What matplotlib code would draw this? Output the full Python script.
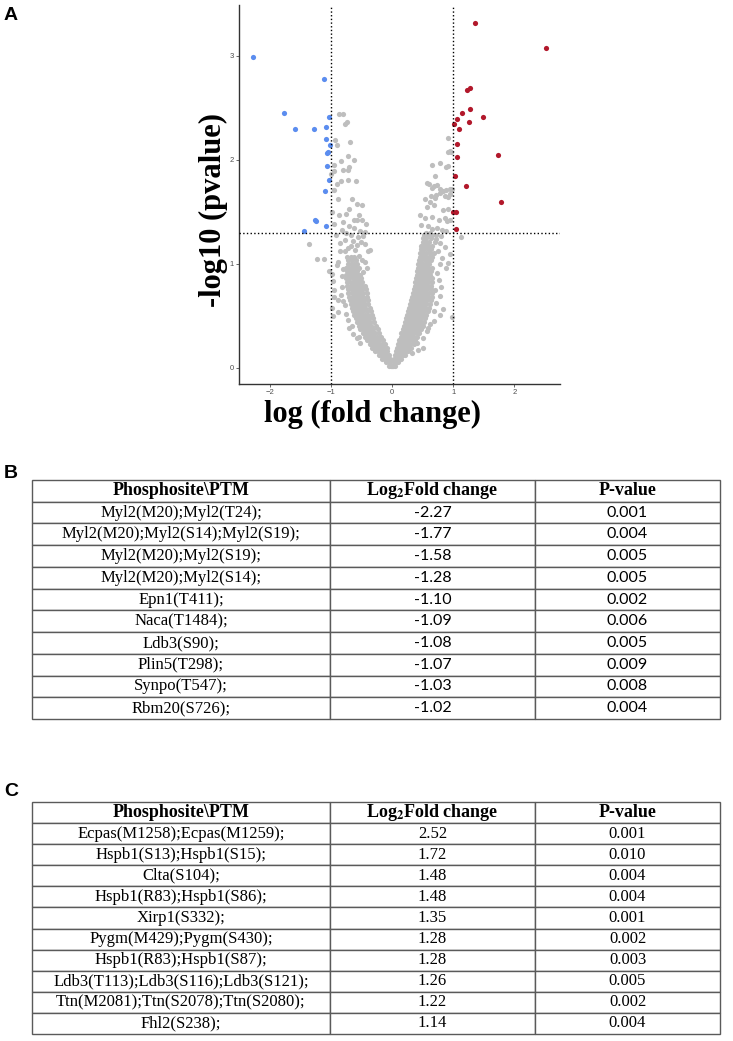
import matplotlib.pyplot as plt

plt.rcParams['mathtext.fontset'] = 'stix'

W, H = 733, 1041

# ---- volcano data ----
# significant, down (blue)
down_x = [-2.28, -1.11, -1.78, -1.585, -1.28, -1.08, -1.03, -1.09, -1.02, -1.05,
          -1.07, -1.07, -1.03, -1.10, -1.27, -1.25, -1.09, -1.45]
down_y = [2.99, 2.78, 2.45, 2.30, 2.30, 2.32, 2.41, 2.20, 2.14, 2.08,
          2.07, 1.94, 1.81, 1.70, 1.42, 1.41, 1.365, 1.32]
# significant, up (red)
up_x = [1.355, 2.52, 1.22, 1.28, 1.28, 1.14, 1.49, 1.066, 1.016, 1.26,
        1.10, 1.06, 1.066, 1.73, 1.03, 1.21, 1.79, 0.995, 1.05, 1.04]
up_y = [3.32, 3.08, 2.67, 2.69, 2.49, 2.45, 2.41, 2.39, 2.35, 2.36,
        2.30, 2.15, 2.03, 2.05, 1.85, 1.75, 1.60, 1.50, 1.50, 1.34]

# not significant (grey): dense V read row by row
gray_row_y = [0.02, 0.055, 0.09, 0.125, 0.16, 0.195, 0.23, 0.265, 0.30, 0.335,
              0.37, 0.405, 0.44, 0.475, 0.51, 0.545, 0.58, 0.615, 0.65, 0.685,
              0.72, 0.755, 0.79, 0.825, 0.86, 0.895, 0.93, 0.965, 1.0, 1.035,
              1.07, 1.105, 1.14, 1.175, 1.21, 1.245, 1.28]
gray_row_x = [
    [-0.05, -0.02, 0.0, 0.02, 0.05],
    [-0.1, -0.06, -0.03, 0.03, 0.06, 0.1],
    [-0.16, -0.12, -0.08, -0.04, 0.03, 0.07, 0.11, 0.15],
    [-0.22, -0.18, -0.14, -0.1, -0.06, 0.05, 0.09, 0.13, 0.17, 0.21],
    [-0.28, -0.24, -0.2, -0.16, -0.12, -0.08, 0.06, 0.1, 0.14, 0.18, 0.22, 0.26],
    [-0.33, -0.29, -0.25, -0.21, -0.17, -0.13, -0.09, 0.08, 0.12, 0.16, 0.2, 0.24, 0.28, 0.31],
    [-0.37, -0.33, -0.29, -0.25, -0.21, -0.17, -0.12, 0.1, 0.14, 0.18, 0.22, 0.26, 0.3, 0.35],
    [-0.41, -0.37, -0.33, -0.29, -0.25, -0.21, -0.15, 0.12, 0.16, 0.2, 0.24, 0.28, 0.32, 0.37],
    [-0.45, -0.41, -0.37, -0.33, -0.29, -0.25, -0.18, 0.14, 0.18, 0.22, 0.26, 0.3, 0.34, 0.4],
    [-0.48, -0.44, -0.4, -0.36, -0.32, -0.28, -0.21, 0.15, 0.19, 0.23, 0.27, 0.31, 0.35, 0.4, 0.44],
    [-0.52, -0.48, -0.44, -0.4, -0.36, -0.31, -0.24, 0.17, 0.21, 0.25, 0.29, 0.33, 0.37, 0.42, 0.47],
    [-0.55, -0.51, -0.47, -0.43, -0.39, -0.34, -0.27, 0.19, 0.23, 0.27, 0.31, 0.35, 0.4, 0.45, 0.5],
    [-0.57, -0.53, -0.49, -0.45, -0.41, -0.36, -0.29, 0.21, 0.25, 0.29, 0.33, 0.37, 0.42, 0.47, 0.52],
    [-0.6, -0.55, -0.51, -0.47, -0.43, -0.38, -0.31, 0.22, 0.26, 0.3, 0.34, 0.38, 0.43, 0.48, 0.54],
    [-0.62, -0.57, -0.53, -0.49, -0.45, -0.4, -0.33, 0.24, 0.28, 0.32, 0.36, 0.4, 0.45, 0.5, 0.56],
    [-0.64, -0.59, -0.55, -0.51, -0.47, -0.42, -0.35, 0.26, 0.3, 0.34, 0.38, 0.42, 0.47, 0.52, 0.58],
    [-0.66, -0.61, -0.57, -0.53, -0.49, -0.44, -0.37, 0.28, 0.32, 0.36, 0.4, 0.44, 0.49, 0.54, 0.6],
    [-0.68, -0.63, -0.58, -0.54, -0.5, -0.45, -0.39, 0.3, 0.34, 0.38, 0.42, 0.46, 0.51, 0.56, 0.62],
    [-0.69, -0.64, -0.59, -0.55, -0.51, -0.46, -0.4, 0.31, 0.35, 0.39, 0.43, 0.47, 0.52, 0.57, 0.63],
    [-0.7, -0.65, -0.6, -0.56, -0.52, -0.47, -0.41, 0.33, 0.37, 0.41, 0.45, 0.49, 0.54, 0.59, 0.65],
    [-0.72, -0.66, -0.61, -0.57, -0.53, -0.48, -0.42, 0.34, 0.38, 0.42, 0.46, 0.5, 0.55, 0.61, 0.66],
    [-0.73, -0.67, -0.62, -0.58, -0.54, -0.49, -0.43, 0.36, 0.4, 0.44, 0.48, 0.52, 0.57, 0.63],
    [-0.74, -0.68, -0.63, -0.58, -0.54, -0.5, -0.45, 0.37, 0.41, 0.45, 0.49, 0.53, 0.58, 0.64],
    [-0.74, -0.69, -0.64, -0.59, -0.55, -0.5, 0.38, 0.42, 0.46, 0.5, 0.54, 0.59, 0.65],
    [-0.75, -0.7, -0.65, -0.6, -0.56, -0.51, 0.39, 0.43, 0.47, 0.51, 0.55, 0.6, 0.66],
    [-0.76, -0.71, -0.66, -0.61, -0.56, -0.52, 0.4, 0.44, 0.48, 0.52, 0.57, 0.62],
    [-0.74, -0.7, -0.66, -0.61, -0.57, 0.41, 0.45, 0.49, 0.53, 0.58, 0.63],
    [-0.75, -0.7, -0.65, -0.6, -0.55, 0.42, 0.46, 0.5, 0.54, 0.59, 0.65],
    [-0.73, -0.68, -0.63, -0.58, 0.43, 0.47, 0.51, 0.56, 0.61],
    [-0.72, -0.66, -0.6, 0.44, 0.48, 0.53, 0.58, 0.64],
    [-0.74, -0.68, -0.62, 0.45, 0.5, 0.55, 0.6, 0.66],
    [0.46, 0.51, 0.56, 0.62, 0.68],
    [0.47, 0.52, 0.58, 0.64],
    [0.48, 0.53, 0.59, 0.66],
    [0.5, 0.55, 0.61, 0.7],
    [0.51, 0.56, 0.63],
    [0.52, 0.58, 0.65, 0.72],
]
# scattered grey sites outside the dense V
gray_out_x = [-0.72, -0.66, -0.54, -0.52, -0.57, -0.88, -0.89, -0.81, -0.95, -0.91,
              -0.88, -0.85, -0.77, -0.86, -0.78, -0.67, -0.61, -0.51, -0.44, -0.39,
              -0.36, -0.97, -0.98, -0.96, -0.97, -0.99, -1.36, -1.23, -1.11, -1.03,
              -0.83, -0.8, -0.82, -0.84, -0.78, -0.76, -0.70, -0.64, -0.5, -0.55,
              -0.45, -0.42, -0.47, -0.65, -0.72, -0.58,
              -0.87, -0.80, -0.77, -0.74, -0.93, -0.69, -0.90, -0.84, -0.72, -0.63,
              -0.96, -0.80, -0.73, -0.70, -0.96, -0.90, -0.84, -0.72, -0.60, -0.95,
              -0.70, -0.87, -0.58, -0.50, -0.98, -0.80, -0.70, -0.63, -0.57, -0.50,
              -0.43, -0.63, -0.52, -0.44, -1.0, -0.88, -0.76, -0.66, -0.55, -0.47,
              -0.56, -0.67, -0.75, -0.83, -0.92, -0.96,
              0.91, 0.92, 0.95, 0.97, 0.66, 0.78, 0.89, 0.91, 0.70, 0.57,
              0.61, 0.65, 0.68, 0.74, 0.78, 0.83, 0.89, 0.94, 0.95, 0.63,
              0.72, 0.79, 0.87, 0.92, 0.54, 0.62, 0.70, 0.57, 0.68, 0.84,
              0.92, 0.46, 0.54, 0.65, 0.76, 0.87, 0.90, 0.94, 0.48, 0.58,
              0.66, 0.74, 0.82, 0.89, 1.13, 0.92, 0.98, 0.84, 0.79, 0.68,
              0.57, 0.51, 0.51, 0.40, 0.43, 0.32, 0.73, 0.76, 0.80, 0.79,
              0.70, 0.72, 0.69, 0.62, 0.58, 0.78, 0.82, 0.75, 0.78, 0.86,
              0.8, 0.72, 0.95, 0.88, 0.62, 0.55, 0.98]
gray_out_y = [0.46, 0.40, 0.30, 0.24, 0.29, 0.54, 0.65, 0.64, 0.75, 0.99,
              1.02, 1.12, 1.12, 1.20, 1.23, 1.17, 1.13, 1.21, 1.19, 1.12,
              1.13, 0.50, 0.58, 0.68, 0.84, 0.90, 1.19, 1.05, 1.05, 0.93,
              0.88, 0.95, 0.78, 0.70, 0.60, 0.52, 0.38, 0.33, 1.04, 1.08,
              1.02, 0.96, 0.92, 1.22, 1.15, 1.18,
              2.44, 2.44, 2.35, 2.36, 2.19, 2.17, 2.14, 1.99, 2.04, 2.0,
              1.95, 1.90, 1.90, 1.93, 1.89, 1.77, 1.80, 1.81, 1.80, 1.71,
              1.53, 1.47, 1.58, 1.57, 1.50, 1.40, 1.36, 1.42, 1.42, 1.42,
              1.38, 1.35, 1.32, 1.31, 1.86, 1.62, 1.48, 1.62, 1.47, 1.27,
              1.26, 1.28, 1.30, 1.33, 1.28, 1.38,
              2.21, 2.08, 2.09, 2.08, 1.95, 1.97, 1.93, 1.94, 1.85, 1.78,
              1.77, 1.73, 1.75, 1.76, 1.72, 1.70, 1.71, 1.72, 1.67, 1.65,
              1.66, 1.68, 1.65, 1.64, 1.62, 1.60, 1.63, 1.55, 1.57, 1.52,
              1.53, 1.47, 1.44, 1.45, 1.42, 1.44, 1.41, 1.42, 1.37, 1.36,
              1.34, 1.35, 1.33, 1.32, 1.26, 1.01, 0.49, 0.57, 0.51, 0.45,
              0.35, 0.29, 0.19, 0.24, 0.17, 0.14, 0.91, 0.85, 0.78, 0.69,
              0.75, 0.62, 0.55, 0.42, 0.38, 1.0, 1.06, 1.12, 1.2, 1.16,
              1.27, 1.24, 1.1, 0.96, 1.3, 1.3, 1.72]

x_ticks = [-2, -1, 0, 1, 2]
y_ticks = [0, 1, 2, 3]
fc_cut = 1.0
p_cut = 1.301

# ---- table data ----
header = ['Phosphosite\\PTM', 'Log$_\\mathbf{2}$Fold change', 'P-value']
sites_b = ['Myl2(M20);Myl2(T24);', 'Myl2(M20);Myl2(S14);Myl2(S19);', 'Myl2(M20);Myl2(S19);',
           'Myl2(M20);Myl2(S14);', 'Epn1(T411);', 'Naca(T1484);', 'Ldb3(S90);',
           'Plin5(T298);', 'Synpo(T547);', 'Rbm20(S726);']
fc_b = [-2.27, -1.77, -1.58, -1.28, -1.10, -1.09, -1.08, -1.07, -1.03, -1.02]
p_b = [0.001, 0.004, 0.005, 0.005, 0.002, 0.006, 0.005, 0.009, 0.008, 0.004]
sites_c = ['Ecpas(M1258);Ecpas(M1259);', 'Hspb1(S13);Hspb1(S15);', 'Clta(S104);',
           'Hspb1(R83);Hspb1(S86);', 'Xirp1(S332);', 'Pygm(M429);Pygm(S430);',
           'Hspb1(R83);Hspb1(S87);', 'Ldb3(T113);Ldb3(S116);Ldb3(S121);',
           'Ttn(M2081);Ttn(S2078);Ttn(S2080);', 'Fhl2(S238);']
fc_c = [2.52, 1.72, 1.48, 1.48, 1.35, 1.28, 1.28, 1.26, 1.22, 1.14]
p_c = [0.001, 0.010, 0.004, 0.004, 0.001, 0.002, 0.003, 0.005, 0.002, 0.004]


def px_rect(l, t, r, b):
    return [l / W, 1 - b / H, (r - l) / W, (b - t) / H]


fig = plt.figure(figsize=(W / 100, H / 100), dpi=100)

# ---- panel A: volcano ----
ax = fig.add_axes(px_rect(239, 5, 560, 384))
gx, gy = [], []
for yv, xs in zip(gray_row_y, gray_row_x):
    gx += xs
    gy += [yv] * len(xs)
gx += gray_out_x
gy += gray_out_y
ax.scatter(gx, gy, s=14, color='#bebebe', linewidths=0, zorder=2)
ax.scatter(down_x, down_y, s=14, color='#5b8def', linewidths=0, zorder=3)
ax.scatter(up_x, up_y, s=14, color='#b2182b', linewidths=0, zorder=3)
for xv in (-fc_cut, fc_cut):
    ax.axvline(xv, color='black', linestyle=':', linewidth=1, zorder=4)
ax.axhline(p_cut, color='black', linestyle=':', linewidth=1, zorder=4)
ax.set_xlim(-2.51, 2.75)
ax.set_ylim(-0.155, 3.49)
ax.set_xticks(x_ticks)
ax.set_yticks(y_ticks)
ax.tick_params(labelsize=5.5, labelcolor='#4d4d4d', color='#4d4d4d', length=2, width=0.6, pad=1.5)
for lab in ax.get_xticklabels() + ax.get_yticklabels():
    lab.set_fontfamily('Liberation Sans')
for s in ('top', 'right'):
    ax.spines[s].set_visible(False)
for s in ('left', 'bottom'):
    ax.spines[s].set_color('#333333')
    ax.spines[s].set_linewidth(1)

fig.text(213 / W, 1 - 210 / H, '-log10 (pvalue)', rotation=90, ha='center', va='center',
         fontfamily='Liberation Serif', fontweight='bold', fontsize=22)
fig.text(373 / W, 1 - 414 / H, 'log (fold change)', ha='center', va='center',
         fontfamily='Liberation Serif', fontweight='bold', fontsize=22)

# ---- panels B, C: tables ----
col_w = [298, 205, 185]


def draw_table(box, sites, fc, pv, num_family):
    tax = fig.add_axes(px_rect(*box))
    tax.axis('off')
    rows = [[s, f'{v:.2f}', f'{q:.3f}'] for s, v, q in zip(sites, fc, pv)]
    tb = tax.table(cellText=rows, colLabels=header, colWidths=[w / sum(col_w) for w in col_w],
                   cellLoc='center', bbox=[0, 0, 1, 1])
    tb.auto_set_font_size(False)
    for (r, c), cell in tb.get_celld().items():
        cell.set_edgecolor('#5a5a5a')
        cell.set_linewidth(1.0)
        t = cell.get_text()
        if r == 0:
            t.set_fontfamily('Liberation Serif')
            t.set_fontweight('bold')
            t.set_fontsize(13)
        elif c == 0:
            t.set_fontfamily('Liberation Serif')
            t.set_fontsize(12)
        else:
            t.set_fontfamily(num_family)
            t.set_fontsize(12 if num_family != 'Lato' else 11.5)


draw_table((32, 480, 720, 719), sites_b, fc_b, p_b, 'Lato')
draw_table((32, 802, 720, 1034), sites_c, fc_c, p_c, 'Liberation Serif')

for letter, yy in (('A', 16), ('B', 473), ('C', 792)):
    fig.text(4 / W, 1 - yy / H, letter, ha='left', va='center',
             fontfamily='Liberation Sans', fontweight='bold', fontsize=14)

fig.savefig('out.png', dpi=100)
